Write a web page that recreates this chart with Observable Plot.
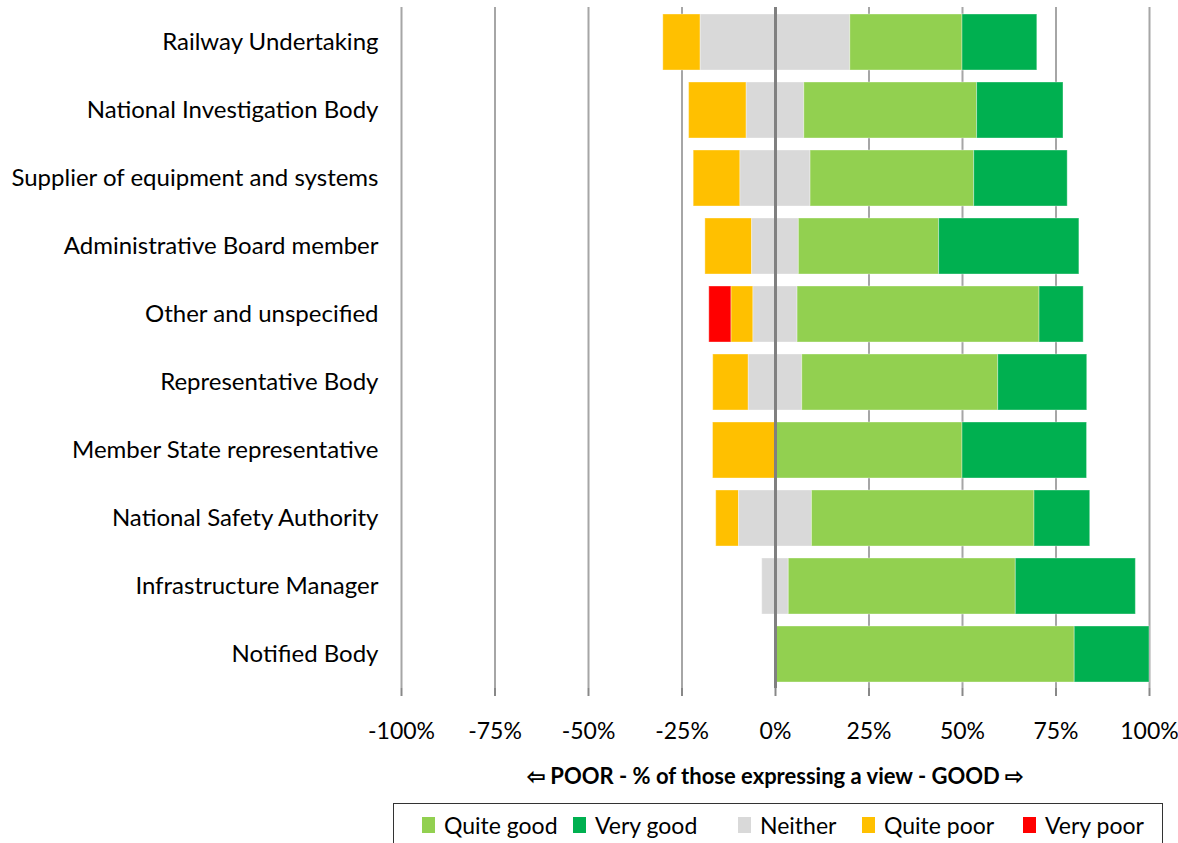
<!DOCTYPE html>
<html>
<head>
<meta charset="utf-8">
<script src="https://cdn.jsdelivr.net/npm/d3@7"></script>
<script src="https://cdn.jsdelivr.net/npm/@observablehq/plot@0.6"></script>
<style>
  body { margin: 0; background: #fff; font-family: Lato, "Open Sans", sans-serif; }
  #wrap { position: relative; width: 1178px; height: 843px; overflow: hidden; }
  #title { position: absolute; left: 401px; width: 748px; top: 762px; text-align: center; font-weight: bold; font-size: 22px; color: #000; }
  #legend { position: absolute; left: 393px; top: 803px; width: 770px; height: 60px; border: 1px solid #333; box-sizing: border-box; }
  .item { position: absolute; top: 9px; font-size: 23px; color: #000; line-height: 24px; white-space: nowrap; }
  .sw { position: absolute; top: 4px; width: 13px; height: 16px; }
</style>
</head>
<body>
<div id="wrap">
  <div id="chart"></div>
  <div id="title">⇦ POOR - % of those expressing a view - GOOD ⇨</div>
  <div id="legend"></div>
</div>
<script>
const categories = [
  "Railway Undertaking",
  "National Investigation Body",
  "Supplier of equipment and systems",
  "Administrative Board member",
  "Other and unspecified",
  "Representative Body",
  "Member State representative",
  "National Safety Authority",
  "Infrastructure Manager",
  "Notified Body"
];
const veryPoor  = [0, 0, 0, 0, 5.9, 0, 0, 0, 0, 0];
const quitePoor = [10, 15.4, 12.5, 12.5, 5.9, 9.5, 16.7, 6.1, 0, 0];
const neither   = [40, 15.4, 18.75, 12.5, 11.8, 14.3, 0, 19.5, 7.1, 0];
const quiteGood = [30, 46.2, 43.75, 37.5, 64.7, 52.4, 50, 59.5, 60.7, 80];
const veryGood  = [20, 23.1, 25, 37.5, 11.8, 23.8, 33.3, 14.9, 32.1, 20];
const seriesNames = ["Quite good", "Very good", "Neither", "Quite poor", "Very poor"];
const seriesColors = ["#92D050", "#00B050", "#D9D9D9", "#FFC000", "#FF0000"];
const xTicks = [-100, -75, -50, -25, 0, 25, 50, 75, 100];

// Build diverging segments: neither centred on zero
const segs = [];
categories.forEach((c, i) => {
  const half = neither[i] / 2;
  let left = -half;
  segs.push({cat: c, s: "Quite poor", x1: left - quitePoor[i], x2: left});
  left -= quitePoor[i];
  segs.push({cat: c, s: "Very poor", x1: left - veryPoor[i], x2: left});
  segs.push({cat: c, s: "Neither", x1: -half, x2: half});
  let right = half;
  segs.push({cat: c, s: "Quite good", x1: right, x2: right + quiteGood[i]});
  right += quiteGood[i];
  segs.push({cat: c, s: "Very good", x1: right, x2: right + veryGood[i]});
});
const data = segs.filter(d => d.x2 - d.x1 > 0);

const chart = Plot.plot({
  width: 1178,
  height: 750,
  marginLeft: 401,
  marginRight: 29,
  marginTop: 7,
  marginBottom: 62,
  style: { fontFamily: "Lato, 'Open Sans', sans-serif", fontSize: "21px", color: "#000", background: "#fff" },
  x: { domain: [-100, 100], ticks: xTicks, tickFormat: d => d + "%", label: null, tickSize: 8, tickPadding: 26 },
  y: { domain: categories, paddingInner: 0.18, paddingOuter: 0.09, label: null, tickSize: 0, tickPadding: 23 },
  color: { domain: seriesNames, range: seriesColors },
  marks: [
    Plot.ruleX(xTicks.filter(t => t !== 0), { stroke: "#a6a6a6", strokeWidth: 2 }),
    Plot.barX(data, { y: "cat", x1: "x1", x2: "x2", fill: "s", stroke: "#ffffff", strokeOpacity: 0.35, strokeWidth: 1, inset: 0 }),
    Plot.ruleX([0], { stroke: "#808080", strokeWidth: 3 }),
    Plot.ruleY([0], { frameAnchor: "bottom", stroke: "#888", strokeWidth: 3 }),
    Plot.axisX({ ticks: xTicks, tickFormat: d => d + "%", tickSize: 8, tickPadding: 26, stroke: "#888", strokeWidth: 2, fontSize: 23, label: null }),
    Plot.axisY({ tickSize: 0, tickPadding: 23, fontSize: 24, label: null })
  ]
});
document.getElementById("chart").appendChild(chart);

// Legend
const legend = document.getElementById("legend");
const swX = [28, 179, 344, 468, 629];
seriesNames.forEach((n, i) => {
  const it = document.createElement("div");
  it.className = "item";
  it.style.left = swX[i] + "px";
  it.style.paddingLeft = "22px";
  const sw = document.createElement("span");
  sw.className = "sw";
  sw.style.left = "0px";
  sw.style.background = seriesColors[i];
  it.appendChild(sw);
  it.appendChild(document.createTextNode(n));
  legend.appendChild(it);
});
</script>
</body>
</html>
